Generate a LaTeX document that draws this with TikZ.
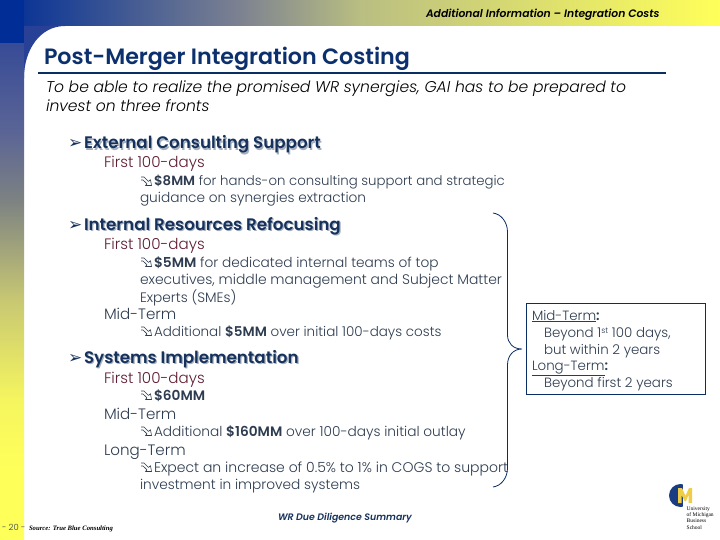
\documentclass[tikz,border=0pt]{standalone}
\usepackage{fontspec}
\setmainfont{Poppins Light}
\newfontfamily\bodyb{Poppins}[BoldFont={Poppins SemiBold},ItalicFont={Poppins Italic},BoldItalicFont={Poppins SemiBold Italic}]
\newfontfamily\srcf{Liberation Serif}
\newfontfamily\dvs{DejaVu Sans}
\definecolor{hblue}{RGB}{0,45,150}
\definecolor{navy}{RGB}{12,48,110}
\definecolor{rulec}{RGB}{10,45,100}
\definecolor{ink}{RGB}{45,60,80}
\definecolor{headc}{RGB}{22,50,92}
\definecolor{wine}{RGB}{95,30,50}
\definecolor{shadowc}{RGB}{165,175,190}
\definecolor{yel}{RGB}{255,255,90}
\definecolor{t1}{RGB}{125,130,145}
\definecolor{t2}{RGB}{185,190,130}
\definecolor{s1}{RGB}{245,245,95}
\definecolor{s2}{RGB}{200,200,115}
\definecolor{s3}{RGB}{125,130,130}
\definecolor{s4}{RGB}{90,100,150}
\definecolor{s5}{RGB}{55,75,150}
\definecolor{cornerc}{RGB}{40,65,150}
\definecolor{logob}{RGB}{25,60,130}
\definecolor{logoy}{RGB}{240,205,70}
\pgfdeclarehorizontalshading{topband}{100bp}{color(0bp)=(hblue); color(25bp)=(hblue); color(41.7bp)=(t1); color(50bp)=(t2); color(75bp)=(yel); color(100bp)=(yel)}
\pgfdeclareverticalshading{sideband}{100bp}{color(0bp)=(yel); color(32bp)=(yel); color(39.1bp)=(s1); color(49.1bp)=(s2); color(59.2bp)=(s3); color(66.2bp)=(s4); color(75bp)=(s5); color(100bp)=(s5)}
\tikzset{
 x=1pt,y=-1pt,
 txt/.style={anchor=base west,inner sep=0pt,outer sep=0pt},
 body/.style={txt,font=\fontsize{13.7}{16}\selectfont,text=ink},
 head/.style={txt,font=\bodyb\bfseries\fontsize{16.7}{19}\selectfont,text=headc},
 hmark/.style={txt,font=\dvs\fontsize{17}{19}\selectfont,text=headc},
 sub/.style={txt,font=\fontsize{15.1}{18}\selectfont,text=wine},
 subm/.style={txt,font=\fontsize{15.1}{18}\selectfont,text=ink},
 boxt/.style={txt,font=\fontsize{13.4}{16}\selectfont,text=ink},
}
\newcommand{\bul}[2]{\draw[ink,line width=.6pt,line join=round] (#1+0,#2-9)--(#1+3,#2-9)--(#1+7.5,#2-4.5)--(#1+9.5,#2-6.3)--(#1+10.5,#2-0.5)--(#1+4.5,#2-0.5)--(#1+6,#2-2.2)--(#1+2,#2-6)--(#1+0,#2-6);}
\newcommand{\hdg}[4]{\node[hmark] (#1m) at (#2-16,#3) {➢};\node[head] (#1) at (#2,#3) {\rlap{\kern1.2pt\raisebox{-1.2pt}{\textcolor{shadowc}{#4}}}#4};}
\begin{document}
\begin{tikzpicture}
\useasboundingbox (0,0) rectangle (720,540);
\fill[white] (0,0) rectangle (720,540);
\shade[shading=topband] (0,0) rectangle (720,26);
\shade[shading=sideband] (0,43) rectangle (24,540);
\fill[hblue] (0,0) rectangle (24,43);
\fill[cornerc] (24,26) -- (65,26) .. controls (40,26) and (24,50) .. (24,78) -- cycle;
% header
\node[txt,font=\bodyb\bfseries\itshape\fontsize{10.8}{13}\selectfont,text=black] (hdr) at (426,18) {Additional Information – Integration Costs};
\node[txt,font=\bodyb\bfseries\fontsize{22.2}{26}\selectfont,text=navy] (title) at (44,65) {Post-Merger Integration Costing};
\coordinate (ruleL) at (38,73); \coordinate (ruleR) at (666,73);
\draw[rulec,line width=2.8pt] (ruleL) -- (ruleR);
\node[txt,font=\itshape\fontsize{15.6}{18}\selectfont,text=black] (intro1) at (46,93) {To be able to realize the promised WR synergies, GAI has to be prepared to};
\node[txt,font=\itshape\fontsize{15.6}{18}\selectfont,text=black] (intro2) at (46,112) {invest on three fronts};
% section 1
\hdg{h1}{84}{149}{External Consulting Support}
\node[sub] (a1) at (104,168) {First 100-days};
\bul{141}{186}
\node[body,font=\fontsize{13.3}{16}\selectfont] (a2) at (154,186) {{\bodyb\bfseries\$8MM} for hands-on consulting support and strategic};
\node[body] (a3) at (140,203) {guidance on synergies extraction};
% section 2
\hdg{h2}{84}{230}{Internal Resources Refocusing}
\node[sub] (b1) at (104,249) {First 100-days};
\bul{141}{267}
\node[body] (b2) at (154,267) {{\bodyb\bfseries\$5MM} for dedicated internal teams of top};
\node[body,font=\fontsize{13.9}{16}\selectfont] (b3) at (140,284) {executives, middle management and Subject Matter};
\node[body] (b4) at (140,302) {Experts (SMEs)};
\node[subm] (b5) at (104,319) {Mid-Term};
\bul{141}{336}
\node[body,font=\fontsize{13.5}{16}\selectfont] (b6) at (154,336) {Additional {\bodyb\bfseries\$5MM} over initial 100-days costs};
% section 3
\hdg{h3}{84}{363}{Systems Implementation}
\node[sub] (c1) at (104,383) {First 100-days};
\bul{141}{400}
\node[body] (c2) at (154,400) {{\bodyb\bfseries\$60MM}};
\node[subm] (c3) at (104,419) {Mid-Term};
\bul{141}{436}
\node[body] (c4) at (154,436) {Additional {\bodyb\bfseries\$160MM} over 100-days initial outlay};
\node[subm] (c5) at (104,455) {Long-Term};
\bul{141}{472}
\node[body,font=\fontsize{14}{16}\selectfont] (c6) at (154,472) {Expect an increase of 0.5\% to 1\% in COGS to support};
\node[body] (c7) at (140,489) {investment in improved systems};
% brace
\coordinate (br0) at (493,213); \coordinate (br1) at (507.5,232); \coordinate (br2) at (507.5,335);
\coordinate (brm) at (522,349); \coordinate (br3) at (507.5,365); \coordinate (br4) at (507.5,468); \coordinate (br5) at (493,487);
\draw[rulec,line width=.8pt] (br0) .. controls (501,214) and (507.5,222) .. (br1) -- (br2) .. controls (507.5,343) and (513,349) .. (brm) .. controls (513,349) and (507.5,356) .. (br3) -- (br4) .. controls (507.5,478) and (501,486) .. (br5);
% box
\node[draw=rulec,line width=.8pt,minimum width=179pt,minimum height=91.5pt,inner sep=0pt,anchor=north west] (defbox) at (525.5,302.5) {};
\node[boxt] (d1) at (532,320) {\underline{Mid-Term}{\bodyb\bfseries :}};
\node[boxt] (d2) at (544,337) {Beyond 1\raisebox{4pt}{\fontsize{8}{9}\selectfont st} 100 days,};
\node[boxt] (d3) at (544,354) {but within 2 years};
\node[boxt] (d4) at (532,370) {\underline{Long-Term}{\bodyb\bfseries :}};
\node[boxt] (d5) at (544,387) {Beyond first 2 years};
% footer
\node[txt,font=\bodyb\bfseries\itshape\fontsize{9.4}{11}\selectfont,text=headc] (foot) at (278,520) {WR Due Diligence Summary};
\node[txt,font=\fontsize{8.5}{10}\selectfont,text=ink] (page) at (2,530) {- 20 -};
\node[txt,font=\srcf\bfseries\itshape\fontsize{6.7}{8}\selectfont,text=black] (src) at (29,530) {Source: True Blue Consulting};
% logo
\fill[logob] (680.5,495.5) circle (11.5);
\fill[white] (683,483) rectangle (693,508);
\fill[logoy] (678,503) -- (678,488) -- (682,488) -- (685.5,496) -- (689,488) -- (692,488) -- (692,503) -- (688.5,503) -- (688.5,495) -- (686,501) -- (684.5,501) -- (681.5,495) -- (681.5,503) -- cycle;
\node[font=\srcf\fontsize{5.5}{6.3}\selectfont,text=black,align=left,anchor=north west,inner sep=0pt] (logo) at (686.5,506.5) {University\\of Michigan\\Business\\School};
\end{tikzpicture}
\end{document}
